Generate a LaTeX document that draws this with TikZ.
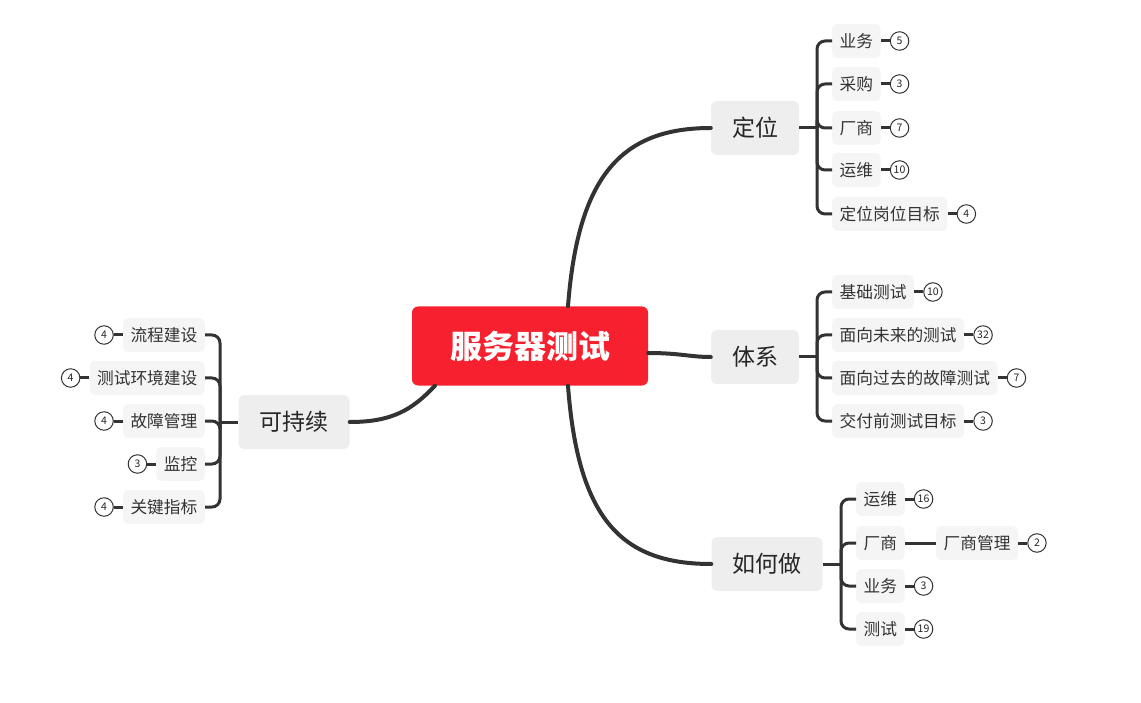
\documentclass[tikz,border=0pt]{standalone}
\usepackage{fontspec}
\setmainfont{Noto Sans CJK SC}
\usetikzlibrary{positioning}
\definecolor{rootred}{HTML}{F6202F}
\definecolor{topicgray}{HTML}{EEEEEE}
\definecolor{subgray}{HTML}{F5F5F5}
\definecolor{linegray}{HTML}{333333}
\begin{document}
\begin{tikzpicture}[
	x=1pt, y=-1pt,
	root/.style={ rectangle, rounded corners=6pt, fill=rootred, text=white, font=\fontsize{32}{32}\selectfont\bfseries, inner xsep=38pt, minimum height=79pt },
	topic/.style={ rectangle, rounded corners=6pt, fill=topicgray, text=black!85, font=\fontsize{23}{23}\selectfont, inner xsep=21pt, minimum height=54pt },
	sub/.style={ rectangle, rounded corners=5pt, fill=subgray, text=black!80, font=\fontsize{16.7}{16.7}\selectfont, inner xsep=7.5pt, minimum height=34pt },
	badge/.style={ circle, draw=linegray, line width=1pt, fill=white, text=black!85, font=\fontsize{10.5}{10.5}\selectfont, inner sep=0pt, minimum size=18.5pt },
	branch/.style={ draw=linegray, line width=4pt, line cap=round },
	twig/.style={ draw=linegray, line width=3pt, rounded corners=8pt }
]
\useasboundingbox (0,0) rectangle (1141,703);

% root and main topics
\node at (530,346) (cen) [root] {服务器测试};
\node at (755,128) (dw) [topic] {定位};
\node at (755,357) (tx) [topic] {体系};
\node at (767,564) (rh) [topic] {如何做};
\node at (294,422) (kc) [topic] {可持续};

\draw[branch] ([xshift=38pt]cen.north) .. controls (578,175) and (622,128) .. (dw.west);
\draw[branch] ([yshift=-7pt]cen.east) .. controls (680,353) and (690,357) .. (tx.west);
\draw[branch] ([xshift=38pt]cen.south) .. controls (578,520) and (622,564) .. (rh.west);
\draw[branch] ([xshift=-95pt]cen.south) .. controls (412,410) and (392,422) .. (kc.east);

% 定位
\node at (832,41) (dw1) [sub,anchor=west] {业务};
\node at (832,84) (dw2) [sub,anchor=west] {采购};
\node at (832,128) (dw3) [sub,anchor=west] {厂商};
\node at (832,170) (dw4) [sub,anchor=west] {运维};
\node at (832,214) (dw5) [sub,anchor=west] {定位岗位目标};
\node (dw1n) [badge,right=9pt of dw1] {5};
\node (dw2n) [badge,right=9pt of dw2] {3};
\node (dw3n) [badge,right=9pt of dw3] {7};
\node (dw4n) [badge,right=9pt of dw4] {10};
\node (dw5n) [badge,right=9pt of dw5] {4};
\coordinate (dwbar) at (817,128);
\draw[twig] (dw.east) -- (dwbar);
\foreach \k in {1,...,5} {
	\draw[twig] (dwbar) |- (dw\k.west);
	\draw[twig] (dw\k) -- (dw\k n);
}

% 体系
\node at (832,292) (tx1) [sub,anchor=west] {基础测试};
\node at (832,335) (tx2) [sub,anchor=west] {面向未来的测试};
\node at (832,378) (tx3) [sub,anchor=west] {面向过去的故障测试};
\node at (832,421) (tx4) [sub,anchor=west] {交付前测试目标};
\node (tx1n) [badge,right=9pt of tx1] {10};
\node (tx2n) [badge,right=9pt of tx2] {32};
\node (tx3n) [badge,right=9pt of tx3] {7};
\node (tx4n) [badge,right=9pt of tx4] {3};
\coordinate (txbar) at (817,357);
\draw[twig] (tx.east) -- (txbar);
\foreach \k in {1,...,4} {
	\draw[twig] (txbar) |- (tx\k.west);
	\draw[twig] (tx\k) -- (tx\k n);
}

% 如何做
\node at (856,499) (rh1) [sub,anchor=west] {运维};
\node at (856,543) (rh2) [sub,anchor=west] {厂商};
\node at (856,586) (rh3) [sub,anchor=west] {业务};
\node at (856,629) (rh4) [sub,anchor=west] {测试};
\node at (936,543) (rh2a) [sub,anchor=west] {厂商管理};
\node (rh1n) [badge,right=9pt of rh1] {16};
\node (rh2n) [badge,right=9pt of rh2a] {2};
\node (rh3n) [badge,right=9pt of rh3] {3};
\node (rh4n) [badge,right=9pt of rh4] {19};
\coordinate (rhbar) at (841,564);
\draw[twig] (rh.east) -- (rhbar);
\foreach \k in {1,...,4} \draw[twig] (rhbar) |- (rh\k.west);
\draw[twig] (rh1) -- (rh1n);
\draw[twig] (rh2) -- (rh2a);
\draw[twig] (rh2a) -- (rh2n);
\draw[twig] (rh3) -- (rh3n);
\draw[twig] (rh4) -- (rh4n);

% 可持续
\node at (205,335) (kc1) [sub,anchor=east] {流程建设};
\node at (205,378) (kc2) [sub,anchor=east] {测试环境建设};
\node at (205,421) (kc3) [sub,anchor=east] {故障管理};
\node at (205,464) (kc4) [sub,anchor=east] {监控};
\node at (205,507) (kc5) [sub,anchor=east] {关键指标};
\node (kc1n) [badge,left=9pt of kc1] {4};
\node (kc2n) [badge,left=9pt of kc2] {4};
\node (kc3n) [badge,left=9pt of kc3] {4};
\node (kc4n) [badge,left=9pt of kc4] {3};
\node (kc5n) [badge,left=9pt of kc5] {4};
\coordinate (kcbar) at (220,422);
\draw[twig] (kc.west) -- (kcbar);
\foreach \k in {1,...,5} {
	\draw[twig] (kcbar) |- (kc\k.east);
	\draw[twig] (kc\k) -- (kc\k n);
}

\end{tikzpicture}
\end{document}
